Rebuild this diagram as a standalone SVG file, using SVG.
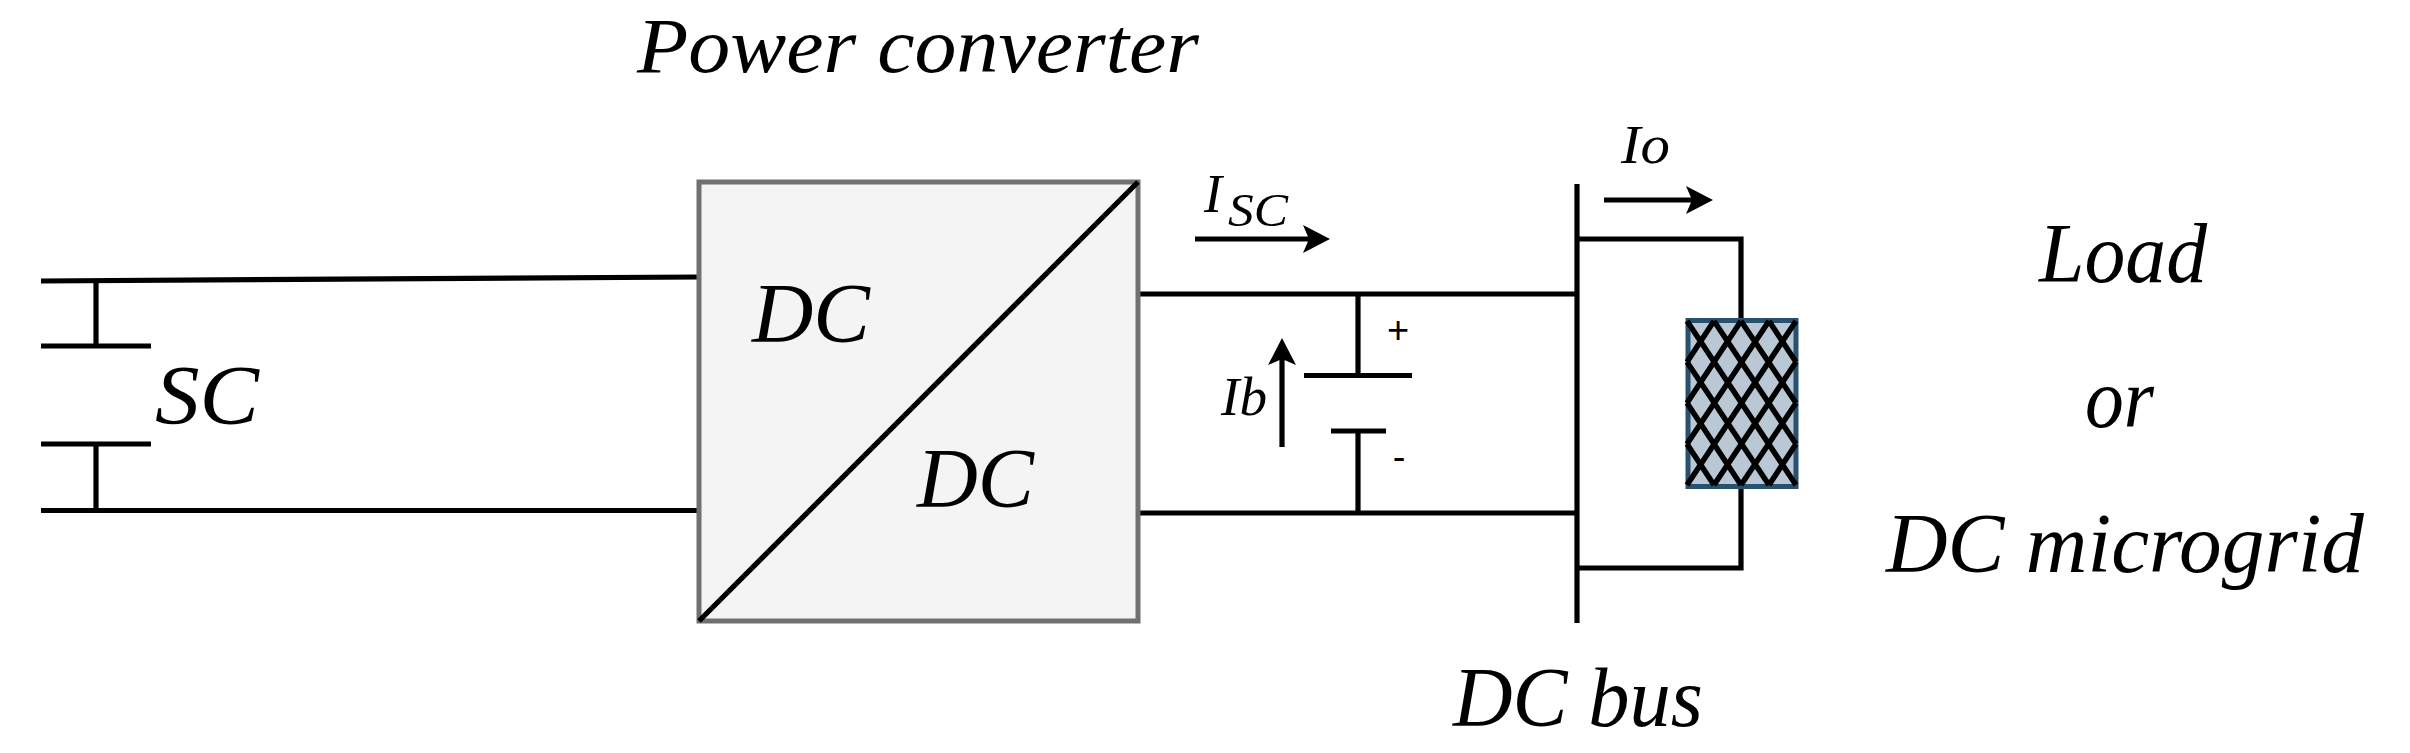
<svg xmlns="http://www.w3.org/2000/svg" width="2410" height="753" viewBox="0 0 2410 753">
  <style>
    .w{fill:none;stroke:#000;stroke-width:5.2;stroke-linecap:butt}
    .a{fill:none;stroke:#000;stroke-width:5.2;marker-end:url(#head)}
    text{font-family:"Liberation Serif","Times New Roman",serif;font-style:italic;fill:#000}
    .big{font-size:84px}
    .title{font-size:79px}
    .small{font-size:54px}
    .sub{font-size:46px}
    .sign{font-family:"Liberation Sans",Arial,sans-serif;font-style:normal;font-size:38px;text-anchor:middle}
  </style>
  <defs>
    <marker id="head" markerUnits="userSpaceOnUse" markerWidth="30" markerHeight="30" refX="19" refY="15" orient="auto">
      <path d="M1,1 L28,15 L1,29 L7,15 Z" fill="#000"/>
    </marker>
  </defs>
  <rect width="2410" height="753" fill="#fff"/>

  <g id="connectors">
    <path class="w" d="M41,281 L700,277"/>
    <path class="w" d="M41,510.500 H700"/>
    <path class="w" d="M1140,294 H1577"/>
    <path class="w" d="M1140,513 H1577"/>
    <path class="w" d="M1358,294 V376"/>
    <path class="w" d="M1358,430 V513"/>
    <path class="w" d="M1577,239 H1741 V319"/>
    <path class="w" d="M1741,486 V568 H1577"/>
    <path class="w" d="M96,281 V346"/>
    <path class="w" d="M96,444 V511"/>
    <path class="a" d="M1195,239 H1321"/>
    <path class="a" d="M1604,200 H1704"/>
    <path class="a" d="M1282,447 V347"/>
  </g>

  <g id="supercapacitor">
    <path class="w" d="M41,346 H151"/>
    <path class="w" d="M41,444 H151"/>
    <text class="big" x="155" y="424" textLength="104" lengthAdjust="spacingAndGlyphs">SC</text>
  </g>

  <g id="converter">
    <rect x="699" y="182" width="439" height="439" fill="#f4f4f4" stroke="#707070" stroke-width="5"/>
    <path class="w" d="M699,621 L1138,182"/>
    <text class="big" x="752" y="342" textLength="118" lengthAdjust="spacingAndGlyphs">DC</text>
    <text class="big" x="917" y="507" textLength="117" lengthAdjust="spacingAndGlyphs">DC</text>
    <text class="title" x="637" y="72" textLength="562" lengthAdjust="spacingAndGlyphs">Power converter</text>
  </g>

  <g id="battery">
    <path class="w" d="M1304,375.500 H1412"/>
    <path class="w" d="M1331,431 H1386"/>
    <text class="sign" x="1398" y="343">+</text>
    <text class="sign" x="1399" y="470">-</text>
  </g>

  <g id="dc-bus">
    <path class="w" d="M1577,184 V623"/>
    <text class="big" x="1453" y="726" textLength="250" lengthAdjust="spacingAndGlyphs">DC bus</text>
  </g>

  <g id="load">
    <rect x="1688" y="320.500" width="108" height="166" fill="#b9c8d4" stroke="#28506f" stroke-width="5"/>
    <path fill="none" stroke="#000" stroke-width="5.500" d="M1687,321 L1796,485 M1714,321 L1796,444 M1741,321 L1796,403 M1769,321 L1796,362 M1687,362 L1769,485 M1687,403 L1741,485 M1687,444 L1714,485 M1796,321 L1687,485 M1769,321 L1687,444 M1741,321 L1687,403 M1714,321 L1687,362 M1796,362 L1714,485 M1796,403 L1741,485 M1796,444 L1769,485"/>
    <text class="big" x="2039" y="282" textLength="168" lengthAdjust="spacingAndGlyphs">Load</text>
    <text class="big" x="2085" y="427" textLength="69" lengthAdjust="spacingAndGlyphs">or</text>
    <text class="big" x="1886" y="572" textLength="478" lengthAdjust="spacingAndGlyphs">DC microgrid</text>
  </g>

  <g id="current-labels">
    <text class="small" x="1204" y="212">I</text>
    <text class="sub" x="1228" y="226" textLength="60" lengthAdjust="spacingAndGlyphs">SC</text>
    <text class="small" x="1221" y="415" textLength="46" lengthAdjust="spacingAndGlyphs">Ib</text>
    <text class="small" x="1621" y="163" textLength="49" lengthAdjust="spacingAndGlyphs">Io</text>
  </g>
</svg>
